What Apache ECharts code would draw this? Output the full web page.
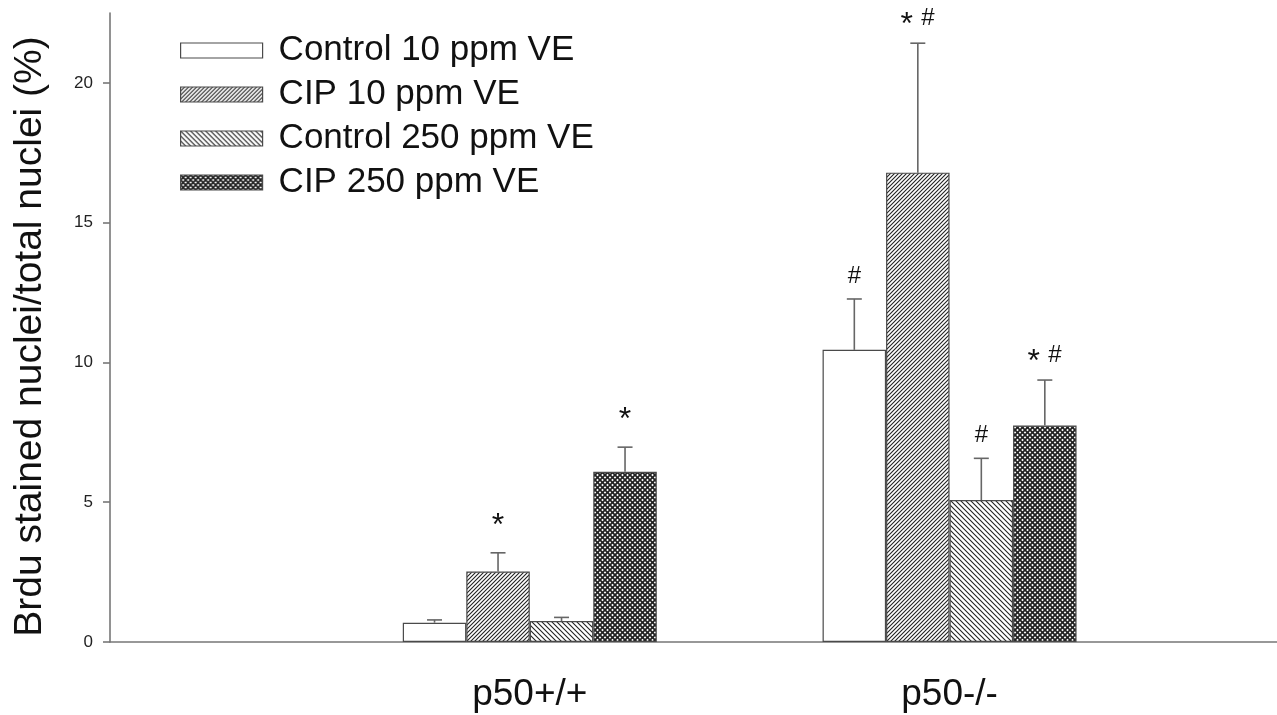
<!DOCTYPE html>
<html>
<head>
<meta charset="utf-8">
<script src="https://cdn.jsdelivr.net/npm/echarts@6/dist/echarts.min.js"></script>
<style>
html,body{margin:0;padding:0;background:#fff;}
#chart{width:1277px;height:715px;}
</style>
</head>
<body>
<div id="chart"></div>
<script>
// ---- data ----
const categories = ['p50+/+', 'p50-/-'];
const categoryPositions = [1, 2];
const seriesNames = ['Control 10 ppm VE', 'CIP 10 ppm VE', 'Control 250 ppm VE', 'CIP 250 ppm VE'];
const control10 = [0.69, 10.45];
const control10Err = [0.10, 1.82];
const control10Marks = ['', '#'];
const cip10 = [2.52, 16.79];
const cip10Err = [0.67, 4.63];
const cip10Marks = ['*', '* #'];
const control250 = [0.75, 5.08];
const control250Err = [0.13, 1.49];
const control250Marks = ['', '#'];
const cip250 = [6.09, 7.74];
const cip250Err = [0.88, 1.63];
const cip250Marks = ['*', '* #'];
const yTicks = [0, 5, 10, 15, 20];
const yTitle = 'Brdu stained nuclei/total nuclei (%)';

// ---- styles ----
const FONT = 'Liberation Sans, Arial, sans-serif';
const BAR_W = 63.5;
const AXIS_COLOR = '#777';
const BORDER = '#4a4a4a';

function makePattern(kind) {
  const c = document.createElement('canvas');
  const size = kind === 'fwd' ? 4 : 5;
  c.width = size; c.height = size;
  const ctx = c.getContext('2d');
  ctx.fillStyle = '#fff';
  ctx.fillRect(0, 0, size, size);
  ctx.strokeStyle = '#222';
  ctx.lineWidth = kind === 'cross' ? 1.7 : 1.1;
  function fwd() { // "/" lines
    ctx.beginPath();
    ctx.moveTo(-1, size + 1); ctx.lineTo(size + 1, -1);
    ctx.moveTo(-1, 1); ctx.lineTo(1, -1);
    ctx.moveTo(size - 1, size + 1); ctx.lineTo(size + 1, size - 1);
    ctx.stroke();
  }
  function back() { // "\" lines
    ctx.beginPath();
    ctx.moveTo(-1, -1); ctx.lineTo(size + 1, size + 1);
    ctx.moveTo(size - 1, -1); ctx.lineTo(size + 1, 1);
    ctx.moveTo(-1, size - 1); ctx.lineTo(1, size + 1);
    ctx.stroke();
  }
  if (kind === 'fwd') fwd();
  else if (kind === 'back') back();
  else { fwd(); back(); }
  return { image: c, repeat: 'repeat' };
}

const fills = ['#ffffff', makePattern('fwd'), makePattern('back'), makePattern('cross')];
const seriesValues = [control10, cip10, control250, cip250];
const seriesErrs = [control10Err, cip10Err, control250Err, cip250Err];
const seriesMarks = [control10Marks, cip10Marks, control250Marks, cip250Marks];

function markText(str, x, y, size) {
  return { type: 'text', style: { text: str, x: x, y: y, align: 'center', verticalAlign: 'middle',
           fontSize: size, fontFamily: FONT, fill: '#111' } };
}

const series = [];
seriesNames.forEach((name, k) => {
  series.push({
    name: name,
    type: 'bar',
    barWidth: BAR_W,
    barGap: '0%',
    data: categoryPositions.map((x, i) => [x, seriesValues[k][i]]),
    itemStyle: { color: fills[k], borderColor: BORDER, borderWidth: 1.2 },
    emphasis: { disabled: true },
    z: 2
  });
});
seriesNames.forEach((name, k) => {
  series.push({
    type: 'custom',
    name: name + ' err',
    data: categoryPositions.map((x, i) => [x, seriesValues[k][i], seriesErrs[k][i]]),
    encode: { x: 0, y: 1 },
    z: 3,
    silent: true,
    renderItem: function (params, api) {
      const x = api.value(0), m = api.value(1), e = api.value(2);
      const mark = seriesMarks[k][params.dataIndex];
      const base = api.coord([x, m]);
      const top = api.coord([x, m + e]);
      const cx = base[0] + (k - 1.5) * BAR_W;
      const cap = top[1];
      const children = [
        { type: 'line', shape: { x1: cx, y1: base[1], x2: cx, y2: cap }, style: { stroke: '#666', lineWidth: 1.6 } },
        { type: 'line', shape: { x1: cx - 7.5, y1: cap, x2: cx + 7.5, y2: cap }, style: { stroke: '#666', lineWidth: 1.6 } }
      ];
      const hasStar = mark.indexOf('*') >= 0;
      const hasHash = mark.indexOf('#') >= 0;
      if (hasStar && hasHash) {
        children.push(markText('*', cx - 11, cap - 18, 32));
        children.push(markText('#', cx + 10, cap - 25, 24));
      } else if (hasStar) {
        children.push(markText('*', cx, cap - 27, 32));
      } else if (hasHash) {
        children.push(markText('#', cx, cap - 23, 24));
      }
      return { type: 'group', children: children };
    }
  });
});

const option = {
  backgroundColor: '#fff',
  animation: false,
  grid: { left: 110, right: 0, top: 13, bottom: 73, containLabel: false },
  legend: {
    show: true,
    orient: 'vertical',
    left: 175,
    top: 28,
    icon: 'rect',
    itemWidth: 82,
    itemHeight: 15,
    itemGap: 9,
    data: seriesNames,
    selectedMode: false,
    textStyle: { fontSize: 35, fontFamily: FONT, color: '#111', padding: [0, 0, 0, 11] },
    itemStyle: { borderColor: BORDER, borderWidth: 1.2 }
  },
  xAxis: {
    type: 'value',
    min: 0,
    max: 2.78,
    splitLine: { show: false },
    axisLine: { show: true, lineStyle: { color: AXIS_COLOR, width: 1.6 } },
    axisTick: { show: false },
    axisLabel: {
      customValues: categoryPositions,
      formatter: function (v) { const i = categoryPositions.indexOf(v); return i >= 0 ? categories[i] : ''; },
      fontSize: 37, fontFamily: FONT, color: '#111', margin: 34
    }
  },
  yAxis: {
    type: 'value',
    min: 0,
    max: 22.5,
    interval: 5,
    name: yTitle,
    nameLocation: 'middle',
    nameGap: 60,
    nameTextStyle: { fontSize: 39, fontFamily: FONT, color: '#111', padding: [0, 18, 0, 0] },
    splitLine: { show: false },
    axisLine: { show: true, lineStyle: { color: AXIS_COLOR, width: 1.6 } },
    axisTick: { show: true, length: 7, customValues: yTicks, lineStyle: { color: AXIS_COLOR, width: 1.6 } },
    axisLabel: { customValues: yTicks, fontSize: 17, fontFamily: FONT, color: '#222', margin: 17 }
  },
  series: series
};

const chart = echarts.init(document.getElementById('chart'), null, { renderer: 'canvas' });
chart.setOption(option);
</script>
</body>
</html>
